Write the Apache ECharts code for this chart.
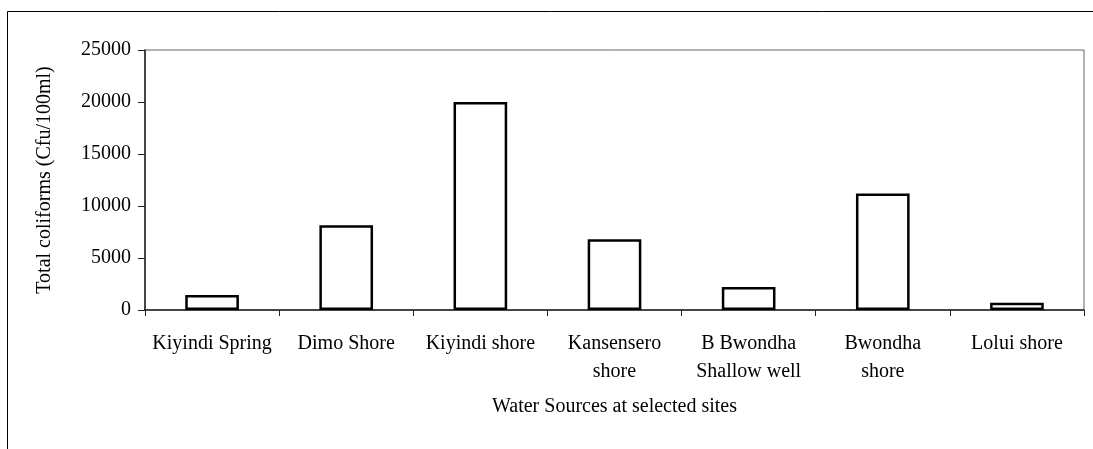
<!DOCTYPE html>
<html>
<head>
<meta charset="utf-8">
<script src="https://cdn.jsdelivr.net/npm/echarts@6/dist/echarts.min.js"></script>
<style>
  html, body { margin: 0; padding: 0; background: #fff; }
  #chart { width: 1093px; height: 449px; }
</style>
</head>
<body>
<div id="chart"></div>
<script>
// categories and values
var sites = ['Kiyindi Spring', 'Dimo Shore', 'Kiyindi shore', 'Kansensero\nshore',
             'B Bwondha\nShallow well', 'Bwondha\nshore', 'Lolui shore'];
var coliforms = [1450, 8150, 20000, 6800, 2200, 11200, 700];
var yTicks = [0, 5000, 10000, 15000, 20000, 25000];

var serif = 'Liberation Serif';
var chart = echarts.init(document.getElementById('chart'), null, { renderer: 'canvas' });

var option = {
    animation: false,
    backgroundColor: '#ffffff',
    textStyle: { fontFamily: serif },
    // outer frame (only top and left are visible in the picture)
    graphic: [{
        type: 'rect',
        shape: { x: 7.5, y: 11.5, width: 1200, height: 600 },
        style: { fill: 'none', stroke: '#000', lineWidth: 1 },
        silent: true
    }],
    grid: {
        left: 145,
        right: 9,
        top: 50,
        bottom: 139,
        show: true,
        borderColor: '#666',
        borderWidth: 1,
        backgroundColor: 'transparent'
    },
    xAxis: {
        type: 'category',
        data: sites,
        name: 'Water Sources at selected sites',
        nameLocation: 'middle',
        nameGap: 87,
        nameTextStyle: { fontFamily: serif, fontSize: 20, color: '#000', lineHeight: 20 },
        axisLine: { lineStyle: { color: '#222', width: 1.5 } },
        axisTick: { show: true, inside: false, length: 6, alignWithLabel: false,
                    lineStyle: { color: '#222', width: 1 } },
        axisLabel: { interval: 0, margin: 20, fontFamily: serif, fontSize: 20,
                     color: '#000', lineHeight: 28, align: 'center' },
        splitLine: { show: false }
    },
    yAxis: {
        type: 'value',
        min: yTicks[0],
        max: yTicks[yTicks.length - 1],
        interval: yTicks[1] - yTicks[0],
        name: 'Total coliforms (Cfu/100ml)',
        nameLocation: 'middle',
        nameGap: 90,
        nameTextStyle: { fontFamily: serif, fontSize: 20, color: '#000', lineHeight: 20 },
        axisLine: { show: true, lineStyle: { color: '#222', width: 1.5 } },
        axisTick: { show: true, inside: false, length: 7, lineStyle: { color: '#222', width: 1 } },
        axisLabel: { margin: 14, fontFamily: serif, fontSize: 20, color: '#000',
                     formatter: function (v) { return String(v); } },
        splitLine: { show: false }
    },
    series: [{
        name: 'Total coliforms',
        type: 'bar',
        data: coliforms,
        barWidth: '40%',
        itemStyle: { color: '#fff', borderColor: '#000', borderWidth: 2.5 }
    }]
};

chart.setOption(option);
</script>
</body>
</html>
